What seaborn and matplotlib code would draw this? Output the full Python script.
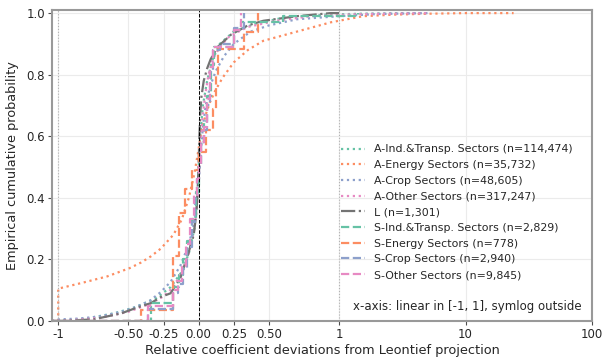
import numpy as np
import pandas as pd
import matplotlib
matplotlib.use('Agg')
import matplotlib.pyplot as plt
import seaborn as sns
from matplotlib.ticker import NullLocator

# ------------------------------------------------------------
# ECDF points
# A-series: smooth curves, L: dash-dot, S-series: step functions
# ------------------------------------------------------------
a_ind_x = [-1.12, -1, -0.8, -0.6, -0.45, -0.3, -0.2, -0.12, -0.07, -0.03, -0.01, 0.0,
           0.01, 0.03, 0.06, 0.1, 0.15, 0.25, 0.4, 0.6, 0.9, 1.5, 3, 5]
a_ind_y = [0.0, 0.0, 0.008, 0.025, 0.045, 0.075, 0.11, 0.16, 0.22, 0.3, 0.4, 0.5,
           0.6, 0.7, 0.78, 0.85, 0.9, 0.94, 0.965, 0.985, 0.995, 0.998, 1.0, 1.0]

a_energy_x = [-1.12, -1, -1, -0.82, -0.65, -0.49, -0.41, -0.34, -0.27, -0.18, -0.12, -0.07,
              -0.03, 0.0, 0.02, 0.05, 0.08, 0.12, 0.17, 0.25, 0.35, 0.46, 0.7, 0.94,
              1.55, 2.7, 5, 10, 24]
a_energy_y = [0.0, 0.0, 0.105, 0.125, 0.145, 0.172, 0.19, 0.21, 0.235, 0.28, 0.33, 0.4,
              0.48, 0.56, 0.62, 0.67, 0.71, 0.75, 0.79, 0.84, 0.88, 0.91, 0.94, 0.97,
              0.99, 0.995, 0.998, 1.0, 1.0]

a_crop_x = [-1.12, -1, -0.85, -0.7, -0.55, -0.45, -0.35, -0.27, -0.2, -0.13, -0.08, -0.04,
            -0.015, 0.0, 0.015, 0.03, 0.05, 0.08, 0.12, 0.18, 0.25, 0.37, 0.5, 0.7,
            1.0, 2, 5]
a_crop_y = [0.0, 0.005, 0.008, 0.015, 0.03, 0.045, 0.065, 0.094, 0.127, 0.18, 0.237, 0.3,
            0.38, 0.45, 0.55, 0.63, 0.7, 0.76, 0.81, 0.86, 0.9, 0.94, 0.96, 0.98,
            0.99, 0.997, 1.0]

a_other_x = [-1.12, -1, -0.7, -0.5, -0.35, -0.25, -0.18, -0.12, -0.07, -0.03, -0.01, 0.0,
             0.01, 0.025, 0.045, 0.07, 0.1, 0.15, 0.22, 0.35, 0.55, 0.8, 1.5, 5]
a_other_y = [0.0, 0.0, 0.01, 0.03, 0.055, 0.08, 0.11, 0.16, 0.22, 0.3, 0.38, 0.46,
             0.56, 0.65, 0.73, 0.8, 0.85, 0.89, 0.925, 0.955, 0.975, 0.99, 0.997, 1.0]

l_x = [-1.12, -1, -0.75, -0.55, -0.43, -0.34, -0.27, -0.2, -0.13, -0.08, -0.035, -0.015,
       -0.005, 0.0, 0.005, 0.012, 0.02, 0.036, 0.06, 0.085, 0.135, 0.23, 0.35, 0.46,
       0.7, 0.94, 1.0]
l_y = [0.0, 0.0, 0.005, 0.025, 0.045, 0.058, 0.078, 0.09, 0.14, 0.21, 0.28, 0.36,
       0.45, 0.52, 0.6, 0.68, 0.73, 0.78, 0.82, 0.85, 0.89, 0.93, 0.96, 0.975,
       0.99, 1.0, 1.0]

s_ind_x = [-1.12, -0.34, -0.18, -0.14, -0.11, -0.08, -0.05, -0.02, 0.0, 0.02, 0.04, 0.06,
           0.09, 0.11, 0.25, 0.30, 0.6, 1.4]
s_ind_y = [0.0, 0.058, 0.11, 0.15, 0.2, 0.26, 0.33, 0.42, 0.5, 0.58, 0.65, 0.73,
           0.83, 0.89, 0.945, 0.97, 0.99, 1.0]

s_energy_x = [-1.12, -0.41, -0.18, -0.14, -0.10, -0.05, 0.0, 0.05, 0.10, 0.12, 0.14,
              0.32, 0.42]
s_energy_y = [0.0, 0.035, 0.21, 0.35, 0.43, 0.49, 0.55, 0.62, 0.69, 0.80, 0.885,
              0.94, 1.0]

s_crop_x = [-1.12, -0.36, -0.18, -0.15, -0.11, -0.08, -0.05, -0.025, -0.01, 0.0, 0.02,
            0.04, 0.06, 0.08, 0.10, 0.15, 0.25, 0.32]
s_crop_y = [0.0, 0.04, 0.09, 0.12, 0.17, 0.24, 0.32, 0.40, 0.46, 0.50, 0.57,
            0.62, 0.70, 0.81, 0.88, 0.90, 0.95, 1.0]

s_other_x = [-1.12, -0.36, -0.18, -0.15, -0.12, -0.09, -0.06, -0.03, -0.01, 0.0, 0.02,
             0.04, 0.06, 0.08, 0.10, 0.25, 0.30]
s_other_y = [0.0, 0.05, 0.10, 0.13, 0.175, 0.25, 0.33, 0.41, 0.46, 0.51, 0.58,
             0.63, 0.72, 0.825, 0.89, 0.945, 1.0]

labels = [
    'A-Ind.&Transp. Sectors (n=114,474)',
    'A-Energy Sectors (n=35,732)',
    'A-Crop Sectors (n=48,605)',
    'A-Other Sectors (n=317,247)',
    'L (n=1,301)',
    'S-Ind.&Transp. Sectors (n=2,829)',
    'S-Energy Sectors (n=778)',
    'S-Crop Sectors (n=2,940)',
    'S-Other Sectors (n=9,845)',
]
xticks = [-1, -0.5, -0.25, 0, 0.25, 0.5, 1, 10, 100]
xticklabels = ['-1', '-0.50', '-0.25', '0.00', '0.25', '0.50', '1', '10', '100']

# ------------------------------------------------------------
# Style
# ------------------------------------------------------------
sns.set_style('whitegrid', {
    'axes.edgecolor': '0.6',
    'grid.color': '0.92',
    'xtick.bottom': True,
    'ytick.left': True,
})
plt.rcParams['font.family'] = ['DejaVu Sans']
pal = sns.color_palette('Set2', 4)

fig = plt.figure(figsize=(6.09, 3.58), dpi=100)
ax = fig.add_axes([0.0854, 0.1034, 0.8866, 0.8686])

series = [
    (a_ind_x, a_ind_y, pal[0], ':', 'default'),
    (a_energy_x, a_energy_y, pal[1], ':', 'default'),
    (a_crop_x, a_crop_y, pal[2], ':', 'default'),
    (a_other_x, a_other_y, pal[3], ':', 'default'),
    (l_x, l_y, '0.45', '-.', 'default'),
    (s_ind_x, s_ind_y, pal[0], '--', 'steps-post'),
    (s_energy_x, s_energy_y, pal[1], '--', 'steps-post'),
    (s_crop_x, s_crop_y, pal[2], '--', 'steps-post'),
    (s_other_x, s_other_y, pal[3], '--', 'steps-post'),
]
for (xs, ys, col, ls, ds), lab in zip(series, labels):
    df = pd.DataFrame({'x': xs, 'y': ys})
    sns.lineplot(data=df, x='x', y='y', ax=ax, color=col, linestyle=ls,
                 drawstyle=ds, lw=1.6, sort=False, estimator=None, label=lab)

ax.axvline(0, color='black', ls='--', lw=0.7)
ax.axvline(-1, color='0.7', ls=':', lw=0.8)
ax.axvline(1, color='0.7', ls=':', lw=0.8)

ax.set_xscale('symlog', linthresh=1, linscale=1)
ax.set_xlim(-1.12, 100)
ax.set_ylim(0, 1.01)
ax.set_xticks(xticks)
ax.set_xticklabels(xticklabels)
ax.xaxis.set_minor_locator(NullLocator())
ax.tick_params(axis='both', labelsize=8.5, length=3, color='0.3', pad=2)
for sp in ax.spines.values():
    sp.set_linewidth(1.5)

ax.set_xlabel('Relative coefficient deviations from Leontief projection', fontsize=9.3, labelpad=2)
ax.set_ylabel('Empirical cumulative probability', fontsize=9.3, labelpad=5)

ax.legend(loc='lower right', bbox_to_anchor=(0.983, 0.1), frameon=False,
          fontsize=7.9, handlelength=2.2, labelspacing=0.52, handletextpad=0.8)
ax.text(0.98, 0.048, 'x-axis: linear in [-1, 1], symlog outside', transform=ax.transAxes,
        ha='right', va='center', fontsize=8.5)

fig.savefig('out.png', dpi=100)
